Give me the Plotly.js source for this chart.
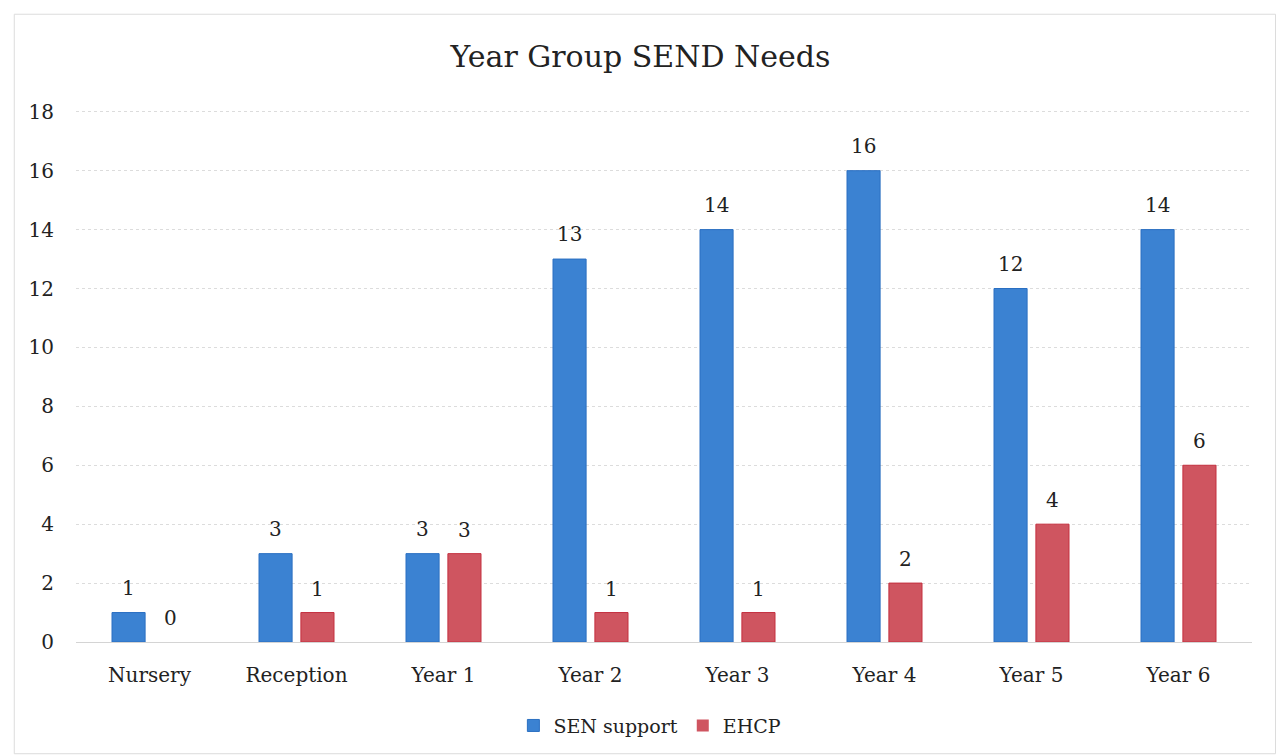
<!DOCTYPE html>
<html>
<head>
<meta charset="utf-8">
<script src="https://cdn.plot.ly/plotly-3.0.1.min.js"></script>
<style>
html,body{margin:0;padding:0;background:#fff;}
#chart{width:1281px;height:756px;}
</style>
</head>
<body>
<div id="chart"></div>
<script>
var categories = ["Nursery", "Reception", "Year 1", "Year 2", "Year 3", "Year 4", "Year 5", "Year 6"];
var senSupport = [1, 3, 3, 13, 14, 16, 12, 14];
var ehcp = [0, 1, 3, 1, 1, 2, 4, 6];
var yTicks = [0, 2, 4, 6, 8, 10, 12, 14, 16, 18];

var FONT = "DejaVu Serif, Liberation Serif, serif";
var traces = [
  {type: "bar", name: "SEN support", x: categories, y: senSupport,
   marker: {color: "#3b82d2", line: {color: "#2a6fc2", width: senSupport.map(function(v){return v ? 1 : 0;})}}, hoverinfo: "x+y"},
  {type: "bar", name: "EHCP", x: categories, y: ehcp,
   marker: {color: "#cf5560", line: {color: "#c4303f", width: ehcp.map(function(v){return v ? 1 : 0;})}}, hoverinfo: "x+y"}
];

var annotations = [];
categories.forEach(function(c, i) {
  annotations.push({x: c, y: senSupport[i], xref: "x", yref: "y", text: String(senSupport[i]),
    showarrow: false, xshift: -21, yshift: 25, font: {family: FONT, size: 20, color: "#222"}});
  annotations.push({x: c, y: ehcp[i], xref: "x", yref: "y", text: String(ehcp[i]),
    showarrow: false, xshift: 21, yshift: 24, font: {family: FONT, size: 20, color: "#222"}});
});

var layout = {
  width: 1281, height: 756,
  paper_bgcolor: "#fff", plot_bgcolor: "#fff",
  margin: {l: 76, r: 29, t: 110, b: 113},
  title: {text: "Year Group SEND Needs", font: {family: FONT, size: 30, color: "#222"},
          x: 0.5, xanchor: "center", y: 0.925, yanchor: "middle"},
  barmode: "group", bargap: 0.43, bargroupgap: 0.21,
  xaxis: {tickfont: {family: FONT, size: 20, color: "#222"}, showgrid: false,
          showline: false, zeroline: false, ticks: "", ticklabelstandoff: 19},
  yaxis: {range: [0, 18.06], tickvals: yTicks, ticktext: yTicks.map(String),
          tickfont: {family: FONT, size: 20, color: "#222"},
          showgrid: true, gridcolor: "#dcdcdc", gridwidth: 1, griddash: "dot",
          zeroline: true, zerolinecolor: "#d4d4d4", zerolinewidth: 1,
          showline: false, ticks: "", ticklabelstandoff: 21},
  showlegend: true,
  legend: {orientation: "h", x: 0.488, xanchor: "center", y: -0.155, yanchor: "middle",
           font: {family: FONT, size: 19, color: "#222"}, itemwidth: 30, traceorder: "normal"},
  annotations: annotations,
  shapes: [{type: "rect", xref: "paper", yref: "paper", x0: -0.0525, x1: 1.02, y0: -0.21, y1: 1.18,
            line: {color: "#dcdcdc", width: 1}, fillcolor: "rgba(0,0,0,0)", layer: "below"}]
};

Plotly.newPlot("chart", traces, layout, {displayModeBar: false, staticPlot: true});
</script>
</body>
</html>
